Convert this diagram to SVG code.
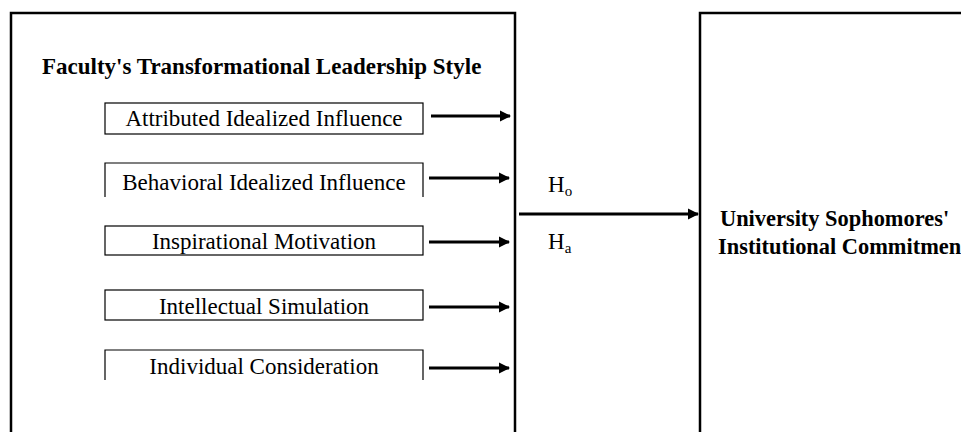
<svg xmlns="http://www.w3.org/2000/svg" width="961" height="432" viewBox="0 0 961 432">
<defs>
<style>
.frame{fill:none;stroke:#000;stroke-width:2.5}
.box{fill:none;stroke:#000;stroke-width:1.2}
.t{font-family:"Liberation Serif","Times New Roman",serif;font-size:23px;fill:#000}
.b{font-weight:bold}
.r{font-size:22.4px}
.arr{stroke:#000;stroke-width:3.2;fill:none;marker-end:url(#ah)}
</style>
<marker id="ah" viewBox="0 0 10 10" refX="9" refY="5" markerWidth="3.6" markerHeight="3.6" orient="auto" markerUnits="strokeWidth">
<path d="M0,0 L10,5 L0,10 z" fill="#000"/>
</marker>
</defs>
<rect width="961" height="432" fill="#fff"/>
<g id="leadership">
<path class="frame" d="M11,440 V13 H515 V440"/>
<text class="t b" x="42" y="74">Faculty's Transformational Leadership Style</text>
</g>
<g id="attributed">
<rect class="box" x="105" y="103" width="318" height="31"/>
<text class="t" x="264" y="126" text-anchor="middle">Attributed Idealized Influence</text>
</g>
<g id="behavioral">
<path class="box" d="M105,197 V163 H423 V197"/>
<text class="t" x="264" y="190" text-anchor="middle">Behavioral Idealized Influence</text>
</g>
<g id="inspirational">
<rect class="box" x="105" y="226" width="318" height="29"/>
<text class="t" x="264" y="249" text-anchor="middle">Inspirational Motivation</text>
</g>
<g id="intellectual">
<rect class="box" x="105" y="290" width="318" height="30"/>
<text class="t" x="264" y="314" text-anchor="middle">Intellectual Simulation</text>
</g>
<g id="individual">
<path class="box" d="M105,380 V350 H423 V380"/>
<text class="t" x="264" y="374" text-anchor="middle">Individual Consideration</text>
</g>
<g id="commitment">
<path class="frame" d="M700,440 V13 H965"/>
<text class="t b r" x="720" y="226">University Sophomores'</text>
<text class="t b r" x="718" y="254">Institutional Commitment</text>
</g>
<g id="hypotheses">
<text class="t" x="548" y="192">H<tspan font-size="15" dy="4">o</tspan></text>
<text class="t" x="548" y="249">H<tspan font-size="15" dy="4">a</tspan></text>
</g>
<g id="connectors">
<line class="arr" x1="431" y1="116" x2="510" y2="116"/>
<line class="arr" x1="429" y1="178" x2="509" y2="178"/>
<line class="arr" x1="429" y1="242" x2="509" y2="242"/>
<line class="arr" x1="429" y1="307" x2="509" y2="307"/>
<line class="arr" x1="429" y1="368" x2="509" y2="368"/>
<line class="arr" x1="519" y1="214" x2="698" y2="214"/>
</g>
</svg>
